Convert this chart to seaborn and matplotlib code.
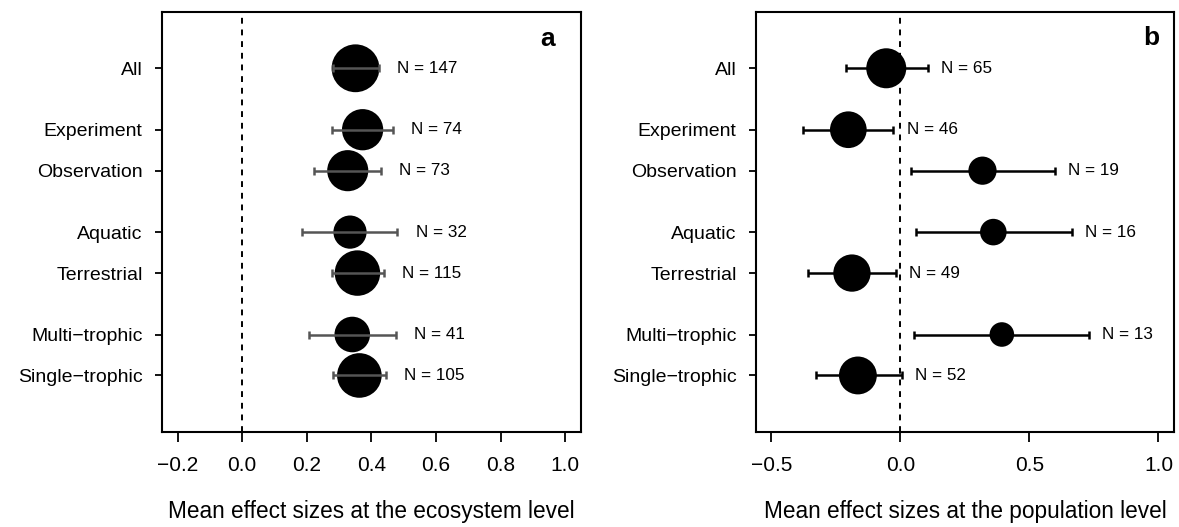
import numpy as np
import pandas as pd
import matplotlib
matplotlib.use("Agg")
import matplotlib.pyplot as plt
import seaborn as sns

# ---- data ----
categories = ["All", "Experiment", "Observation", "Aquatic", "Terrestrial",
              "Multi\u2212trophic", "Single\u2212trophic"]
group = [0, 1, 1, 2, 2, 3, 3]

eco_mean = [0.351, 0.373, 0.327, 0.334, 0.357, 0.341, 0.363]
eco_lo = [0.280, 0.278, 0.223, 0.184, 0.277, 0.208, 0.282]
eco_hi = [0.424, 0.468, 0.430, 0.481, 0.440, 0.476, 0.445]
eco_n = [147, 74, 73, 32, 115, 41, 105]

pop_mean = [-0.055, -0.202, 0.318, 0.360, -0.188, 0.393, -0.165]
pop_lo = [-0.212, -0.377, 0.039, 0.059, -0.360, 0.051, -0.329]
pop_hi = [0.108, -0.027, 0.600, 0.663, -0.017, 0.732, 0.005]
pop_n = [65, 46, 19, 16, 49, 13, 52]

eco_ticks = [-0.2, 0.0, 0.2, 0.4, 0.6, 0.8, 1.0]
pop_ticks = [-0.5, 0.0, 0.5, 1.0]

# ---- style ----
sns.set_style("ticks")
plt.rcParams["font.family"] = ["Liberation Sans", "DejaVu Sans"]
plt.rcParams["text.color"] = "black"
plt.rcParams["axes.labelcolor"] = "black"
plt.rcParams["xtick.color"] = "black"
plt.rcParams["ytick.color"] = "black"

fig = plt.figure(figsize=(11.79, 5.27), dpi=100)
ax_a = fig.add_axes([0.1374, 0.1803, 0.3551, 0.797])
ax_b = fig.add_axes([0.6412, 0.1803, 0.3545, 0.797])

pos = np.arange(len(categories)) + 0.5 * np.array(group)


def fmt(t):
    return f"{t:.1f}".replace("-", "\u2212")


def panel(ax, mean, lo, hi, n, ticks, xlim, letter, xlabel, ecol, lab_off, err_top):
    df = pd.DataFrame({"cat": categories, "pos": pos, "mean": mean,
                       "lo": lo, "hi": hi, "n": n})
    sizes = (6.9 * np.log(df["n"].to_numpy())) ** 2
    sns.scatterplot(data=df, x="mean", y="pos", s=sizes, color="black",
                    edgecolor="none", linewidth=0, ax=ax, zorder=3, legend=False)
    xerr = np.vstack([df["mean"] - df["lo"], df["hi"] - df["mean"]])
    ax.errorbar(df["mean"], df["pos"], xerr=xerr, fmt="none", ecolor=ecol,
                elinewidth=1.8, capsize=3.2, capthick=1.8,
                zorder=4 if err_top else 2)
    ax.axvline(0, color="black", lw=1.4, ls=(0, (3, 3)), zorder=1)
    for _, r in df.iterrows():
        ax.annotate(f"N = {r['n']}", xy=(r["hi"], r["pos"]),
                    xytext=(lab_off, 0), textcoords="offset points",
                    va="center", ha="left", fontsize=12.3, color="black")
    ax.set_xlim(*xlim)
    ax.set_ylim(8.88, -1.375)
    ax.set_xticks(ticks)
    ax.set_xticklabels([fmt(t) for t in ticks])
    ax.set_yticks(pos)
    ax.set_yticklabels(categories)
    ax.tick_params(axis="x", labelsize=15, length=7, width=1.3, pad=10.5,
                   direction="out", color="black", labelcolor="black")
    ax.tick_params(axis="y", labelsize=14, length=5, width=1.3, pad=9,
                   direction="out", color="black", labelcolor="black")
    for sp in ax.spines.values():
        sp.set_visible(True)
        sp.set_linewidth(1.5)
        sp.set_color("black")
    ax.set_xlabel(xlabel, fontsize=16.3, labelpad=18, color="black")
    ax.set_ylabel("")
    ax.text(letter[1], letter[2], letter[0], transform=ax.transAxes,
            fontsize=19, fontweight="bold", ha="center", va="center",
            color="black")


panel(ax_a, eco_mean, eco_lo, eco_hi, eco_n, eco_ticks, (-0.248, 1.048),
      ("a", 0.922, 0.935), "Mean effect sizes at the ecosystem level",
      "#555555", 13, True)
panel(ax_b, pop_mean, pop_lo, pop_hi, pop_n, pop_ticks, (-0.56, 1.06),
      ("b", 0.947, 0.937), "Mean effect sizes at the population level",
      "black", 9.4, False)

fig.savefig("out.png", dpi=100)
